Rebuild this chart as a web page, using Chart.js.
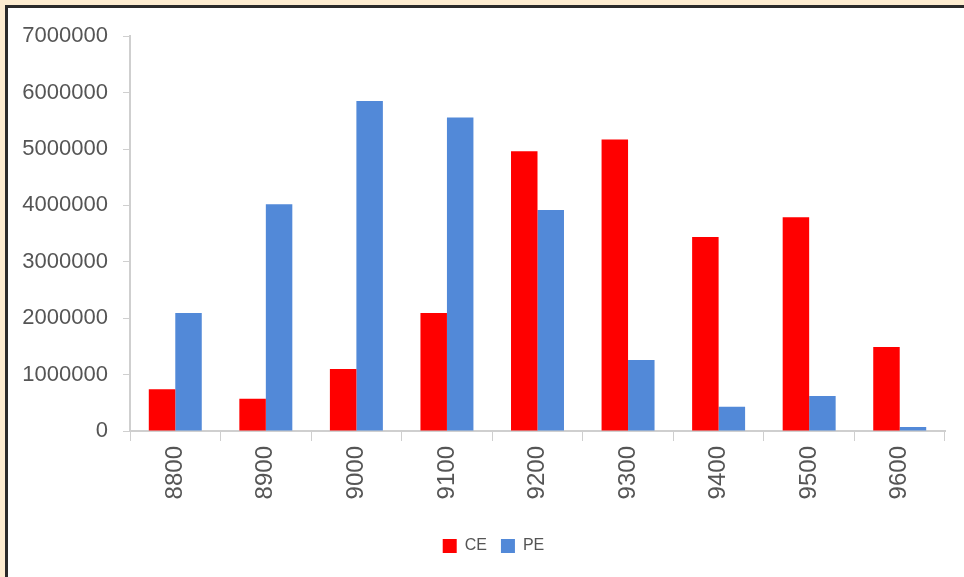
<!DOCTYPE html>
<html>
<head>
<meta charset="utf-8">
<script src="https://cdn.jsdelivr.net/npm/chart.js@4/dist/chart.umd.min.js"></script>
<style>
	html, body { margin: 0; padding: 0; background: #fdecd0; overflow: hidden; }
	#frame {
		position: absolute; left: 5px; top: 5px;
		width: 962px; height: 575px;
		border-left: 3px solid #2a2a2a; border-top: 3px solid #2a2a2a;
		background: #ffffff;
	}
	#wrap { position: absolute; left: 0; top: 0; width: 956px; height: 569px; }
</style>
</head>
<body>
<div id="frame"><div id="wrap"><canvas id="bar-chart"></canvas></div></div>
<script>
var strikes = ["8800", "8900", "9000", "9100", "9200", "9300", "9400", "9500", "9600"];
var ceValues = [740000, 570000, 1100000, 2090000, 4960000, 5170000, 3440000, 3790000, 1490000];
var peValues = [2090000, 4020000, 5850000, 5560000, 3920000, 1260000, 430000, 620000, 70000];
var yTicks = [0, 1000000, 2000000, 3000000, 4000000, 5000000, 6000000, 7000000];

// legend sits a bit right of centre in the original
var legendShift = {
	id: 'legendShift',
	afterLayout: function (chart) {
		chart.legend.left += 17;
		chart.legend.right += 17;
	}
};

new Chart(document.getElementById("bar-chart"), {
	type: 'bar',
	data: {
		labels: strikes,
		datasets: [
			{
				label: "CE",
				backgroundColor: "#ff0000",
				data: ceValues
			},
			{
				label: "PE",
				backgroundColor: "#5289d8",
				data: peValues
			}
		]
	},
	plugins: [legendShift],
	options: {
		responsive: true,
		maintainAspectRatio: false,
		animation: false,
		datasets: { bar: { barPercentage: 1, categoryPercentage: 0.585 } },
		layout: { padding: { left: 0, right: 19, top: 27, bottom: 13 } },
		plugins: {
			tooltip: { enabled: false },
			legend: {
				position: 'bottom',
				labels: {
					boxWidth: 14,
					boxHeight: 14,
					padding: 14,
					color: '#555555',
					font: { family: 'Liberation Sans', size: 16 }
				}
			}
		},
		scales: {
			x: {
				grid: { display: true, drawOnChartArea: false, tickLength: 10, tickColor: '#cfcfcf', offset: true },
				border: { display: true, color: '#cfcfcf', width: 2 },
				ticks: {
					minRotation: 90, maxRotation: 90, padding: 5,
					color: '#555555',
					font: { family: 'Liberation Sans', size: 24 }
				},
				afterFit: function (scale) { scale.height = 93; }
			},
			y: {
				min: 0,
				max: 7000000,
				afterBuildTicks: function (scale) {
					scale.ticks = yTicks.map(function (v) { return { value: v }; });
				},
				grid: { display: true, drawOnChartArea: false, tickLength: 7, tickColor: '#cfcfcf' },
				border: { display: true, color: '#cfcfcf', width: 2 },
				ticks: {
					padding: 15,
					color: '#555555',
					font: { family: 'Liberation Sans', size: 22 },
					callback: function (v) { return String(v); }
				},
				afterFit: function (scale) { scale.width = 122; }
			}
		}
	}
});
</script>
</body>
</html>
